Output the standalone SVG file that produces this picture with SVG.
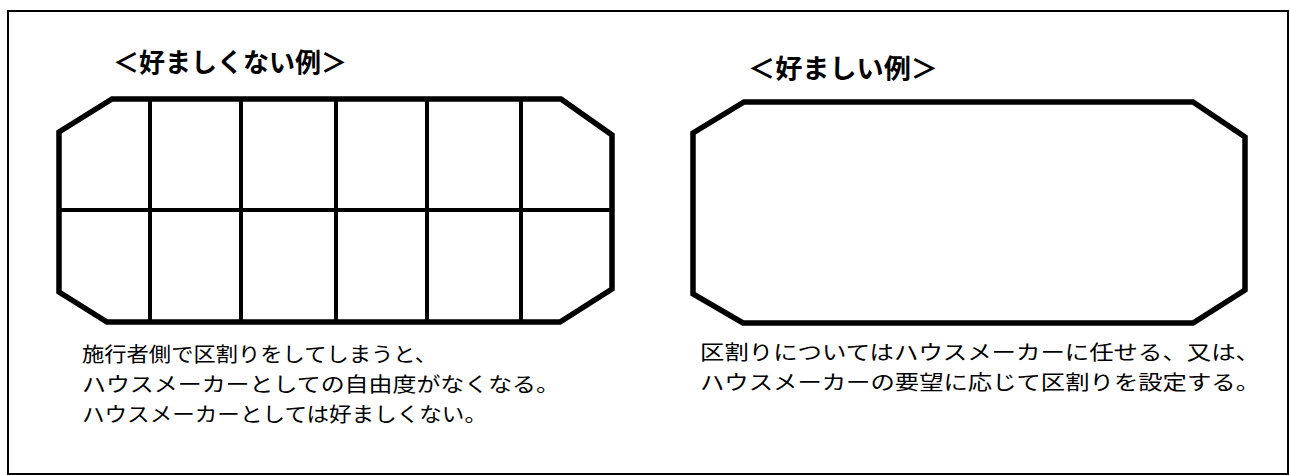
<svg xmlns="http://www.w3.org/2000/svg" width="1290" height="475" viewBox="0 0 1290 475">
<style>
.frame{fill:none;stroke:#000;stroke-width:2}
.oct{fill:none;stroke:#000;stroke-width:5.5;stroke-linejoin:miter}
.grid{stroke:#000;stroke-width:4}
.title{font-family:"Noto Sans CJK JP","Noto Sans CJK SC",sans-serif;font-size:26.5px;font-weight:bold;fill:#000}
.body{font-family:"Noto Sans CJK JP","Noto Sans CJK SC",sans-serif;font-size:20.5px;fill:#000}
</style>
<rect class="frame" x="8" y="11" width="1280" height="463"/>
<g id="bad-example">
<text class="title" x="113" y="72" textLength="234" lengthAdjust="spacingAndGlyphs">＜好ましくない例＞</text>
<polygon class="oct" points="112,99 561,99 612,135 612,289 560,322 107,322 59,292 59,132"/>
<g class="grid">
<line x1="150" y1="99" x2="150" y2="322"/>
<line x1="241" y1="99" x2="241" y2="322"/>
<line x1="336" y1="99" x2="336" y2="322"/>
<line x1="427" y1="99" x2="427" y2="322"/>
<line x1="521" y1="99" x2="521" y2="322"/>
<line x1="59" y1="210" x2="612" y2="210"/>
</g>
<text class="body" x="82" y="362" textLength="355" lengthAdjust="spacingAndGlyphs">施行者側で区割りをしてしまうと、</text>
<text class="body" x="82" y="392" textLength="478" lengthAdjust="spacingAndGlyphs">ハウスメーカーとしての自由度がなくなる。</text>
<text class="body" x="82" y="422" textLength="405" lengthAdjust="spacingAndGlyphs">ハウスメーカーとしては好ましくない。</text>
</g>
<g id="good-example">
<text class="title" x="748" y="78" textLength="190" lengthAdjust="spacingAndGlyphs">＜好ましい例＞</text>
<polygon class="oct" points="744,102 1193,102 1245,137 1245,290 1193,323 743,323 693,294 693,133"/>
<text class="body" x="700" y="360" textLength="560" lengthAdjust="spacingAndGlyphs">区割りについてはハウスメーカーに任せる、又は、</text>
<text class="body" x="700" y="390" textLength="560" lengthAdjust="spacingAndGlyphs">ハウスメーカーの要望に応じて区割りを設定する。</text>
</g>
<g id="connectors"/>
</svg>
